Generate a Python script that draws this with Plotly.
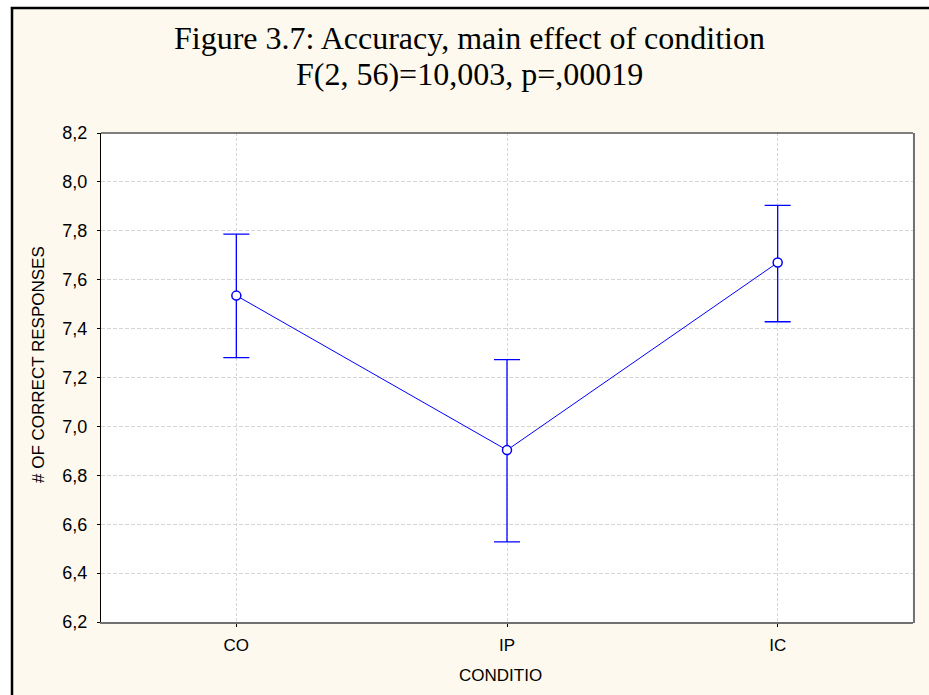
import plotly.graph_objects as go

categories = ["CO", "IP", "IC"]
means = [7.535, 6.903, 7.670]
err_upper = [0.251, 0.370, 0.234]
err_lower = [0.254, 0.375, 0.242]
y_ticks = [6.2, 6.4, 6.6, 6.8, 7.0, 7.2, 7.4, 7.6, 7.8, 8.0, 8.2]

blue = "#0000FF"
cream = "#FEF9EE"
fig = go.Figure()
fig.add_trace(go.Scatter(
    x=[0, 1, 2], y=means, mode="lines+markers",
    line=dict(color=blue, width=1),
    marker=dict(symbol="circle", size=9, color="white", line=dict(color=blue, width=1.5)),
    error_y=dict(type="data", symmetric=False, array=err_upper, arrayminus=err_lower,
                 color=blue, thickness=1.3, width=13),
    showlegend=False, cliponaxis=False,
))

fig.update_layout(
    width=929, height=695,
    paper_bgcolor=cream, plot_bgcolor="white",
    margin=dict(l=101, r=16, t=133, b=73),
    separators=",.",
    font=dict(family="Liberation Sans, Arial", size=16, color="black"),
    xaxis=dict(range=[-0.5, 2.5], tickvals=[0, 1, 2], ticktext=categories,
               tickfont=dict(size=17), ticklabelstandoff=4,
               showline=True, linecolor="#707070", linewidth=2,
               ticks="outside", ticklen=3, tickcolor="black",
               zeroline=False, showgrid=True, gridcolor="#d6d6d6", griddash="3px,2px", gridwidth=1),
    yaxis=dict(range=[6.2, 8.2], tickvals=y_ticks, tickformat=".1f",
               tickfont=dict(size=18), ticklabelstandoff=6,
               showline=True, linecolor="black", linewidth=1,
               ticks="outside", ticklen=3, tickcolor="black",
               zeroline=False, showgrid=True, gridcolor="#d6d6d6", griddash="4px,2px", gridwidth=1),
)
# white page margin outside the black left/top border
fig.add_shape(type="rect", xref="paper", yref="paper", x0=-0.2, x1=-0.1108, y0=-0.2, y1=1.3,
              fillcolor="white", line=dict(width=0), layer="below")
fig.add_shape(type="rect", xref="paper", yref="paper", x0=-0.2, x1=1.1, y0=1.2556, y1=1.3,
              fillcolor="white", line=dict(width=0), layer="below")
fig.add_shape(type="line", xref="paper", yref="paper", x0=-0.1096, x1=-0.1096, y0=-0.2, y1=1.2575,
              line=dict(color="black", width=2.5))
fig.add_shape(type="line", xref="paper", yref="paper", x0=-0.111, x1=1.1, y0=1.2556, y1=1.2556,
              line=dict(color="black", width=2.5))
# plot frame: top black, right grey shadow
fig.add_shape(type="line", xref="paper", yref="paper", x0=0, x1=1, y0=1, y1=1,
              line=dict(color="black", width=1))
fig.add_shape(type="line", xref="paper", yref="paper", x0=1.0012, x1=1.0012, y0=-0.002, y1=1,
              line=dict(color="#707070", width=2))

fig.add_annotation(text="Figure 3.7: Accuracy, main effect of condition",
                   xref="paper", yref="paper", x=0.4544, y=1.1935, xanchor="center", yanchor="middle",
                   showarrow=False,
                   font=dict(family="Liberation Serif, Times New Roman", size=32, color="black"))
fig.add_annotation(text="F(2, 56)=10,003, p=,00019",
                   xref="paper", yref="paper", x=0.4544, y=1.1205, xanchor="center", yanchor="middle",
                   showarrow=False,
                   font=dict(family="Liberation Serif, Times New Roman", size=32, color="black"))
fig.add_annotation(text="# OF CORRECT RESPONSES", textangle=-90,
                   xref="paper", yref="paper", x=-0.0776, y=0.5276, xanchor="center", yanchor="middle",
                   showarrow=False, font=dict(size=17))
fig.add_annotation(text="CONDITIO",
                   xref="paper", yref="paper", x=0.4914, y=-0.1084, xanchor="center", yanchor="middle",
                   showarrow=False, font=dict(size=17))

fig.write_html("out.html", post_script="document.body.style.margin='0';",
               config={"displayModeBar": False})
